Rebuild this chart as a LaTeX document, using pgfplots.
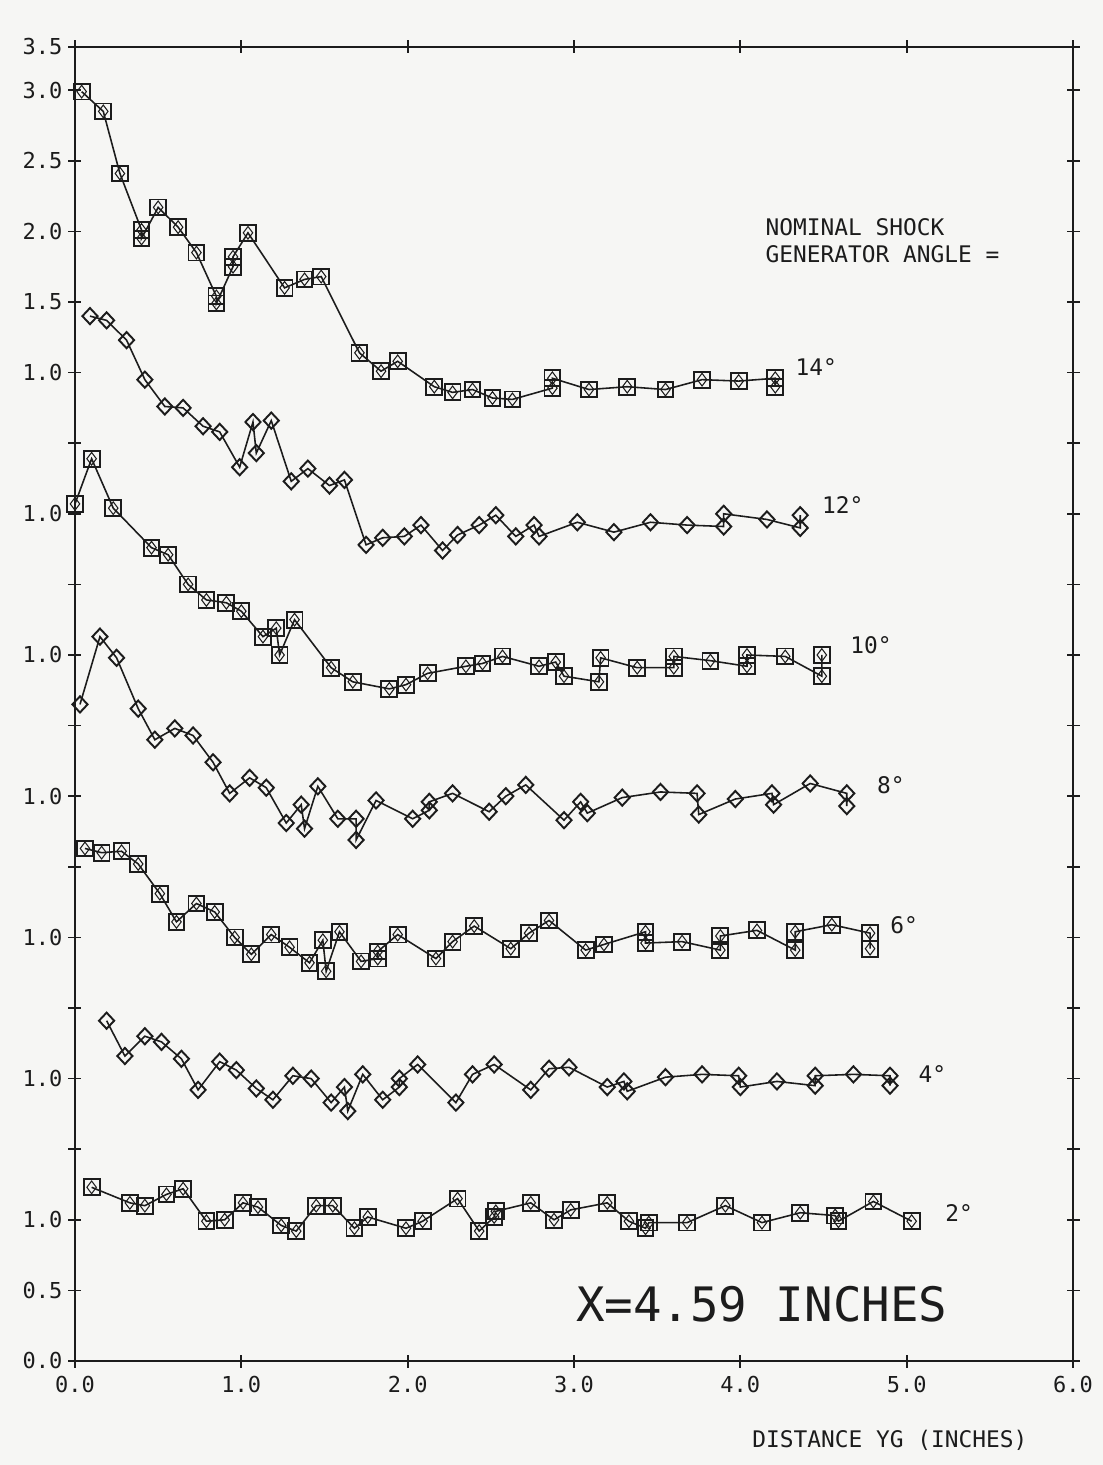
\documentclass[border=0pt]{standalone}
\usepackage{pgfplots}
\pgfplotsset{compat=1.18}
\usepackage{pgfplotstable}
\usepackage{fontspec}
\setmainfont{DejaVu Sans Mono}
\definecolor{paper}{RGB}{246,246,244}
\definecolor{ink}{RGB}{28,28,28}

\pgfplotstableread{
x y
0.04 8.99
0.17 8.85
0.27 8.41
0.40 8.01
0.40 7.95
0.50 8.17
0.62 8.03
0.73 7.85
0.85 7.54
0.85 7.49
0.95 7.75
0.95 7.82
1.04 7.99
1.26 7.60
1.38 7.66
1.48 7.68
1.71 7.14
1.84 7.01
1.94 7.08
2.16 6.90
2.27 6.86
2.39 6.88
2.51 6.82
2.63 6.81
2.87 6.89
2.87 6.96
3.09 6.88
3.32 6.90
3.55 6.88
3.77 6.95
3.99 6.94
4.21 6.96
4.21 6.90
}\dfourteen

\pgfplotstableread{
x y
0.09 7.40
0.19 7.37
0.31 7.23
0.42 6.95
0.54 6.76
0.65 6.75
0.77 6.62
0.87 6.58
0.99 6.33
1.07 6.65
1.09 6.43
1.18 6.66
1.30 6.23
1.40 6.32
1.53 6.20
1.62 6.24
1.75 5.78
1.85 5.83
1.98 5.84
2.08 5.92
2.21 5.74
2.30 5.85
2.43 5.92
2.53 5.99
2.65 5.84
2.76 5.92
2.79 5.84
3.02 5.94
3.24 5.87
3.46 5.94
3.68 5.92
3.90 5.91
3.90 6.00
4.16 5.96
4.36 5.90
4.36 5.99
}\dtwelve

\pgfplotstableread{
x y
0.00 6.07
0.10 6.39
0.23 6.04
0.46 5.76
0.56 5.71
0.68 5.50
0.79 5.39
0.91 5.37
1.00 5.31
1.13 5.13
1.21 5.19
1.23 5.00
1.32 5.25
1.54 4.91
1.67 4.81
1.89 4.76
1.99 4.79
2.12 4.87
2.35 4.92
2.45 4.94
2.57 4.99
2.79 4.92
2.89 4.95
2.94 4.85
3.15 4.81
3.16 4.98
3.38 4.91
3.60 4.91
3.60 4.99
3.82 4.96
4.04 4.92
4.04 5.00
4.27 4.99
4.49 4.85
4.49 5.00
}\dten

\pgfplotstableread{
x y
0.03 4.65
0.15 5.13
0.25 4.98
0.38 4.62
0.48 4.40
0.60 4.48
0.71 4.43
0.83 4.24
0.93 4.02
1.05 4.13
1.15 4.06
1.27 3.81
1.36 3.94
1.38 3.77
1.46 4.07
1.58 3.84
1.69 3.84
1.69 3.69
1.81 3.97
2.03 3.84
2.13 3.90
2.13 3.96
2.27 4.02
2.49 3.89
2.59 4.00
2.71 4.08
2.94 3.83
3.04 3.96
3.08 3.88
3.29 3.99
3.52 4.03
3.74 4.02
3.75 3.87
3.97 3.98
4.19 4.02
4.20 3.94
4.42 4.09
4.64 4.02
4.64 3.93
}\deight

\pgfplotstableread{
x y
0.06 3.63
0.16 3.60
0.28 3.61
0.38 3.52
0.51 3.31
0.61 3.11
0.73 3.24
0.84 3.18
0.96 3.00
1.06 2.88
1.18 3.02
1.29 2.93
1.41 2.82
1.49 2.98
1.51 2.76
1.59 3.04
1.72 2.83
1.82 2.85
1.82 2.90
1.94 3.02
2.17 2.85
2.27 2.97
2.40 3.08
2.62 2.92
2.73 3.03
2.85 3.12
3.07 2.91
3.18 2.95
3.43 3.04
3.43 2.96
3.65 2.97
3.88 2.91
3.88 3.01
4.10 3.05
4.33 2.91
4.33 3.04
4.55 3.09
4.78 3.03
4.78 2.92
}\dsix

\pgfplotstableread{
x y
0.19 2.41
0.30 2.16
0.42 2.30
0.52 2.26
0.64 2.14
0.74 1.92
0.87 2.12
0.97 2.06
1.09 1.93
1.19 1.85
1.31 2.02
1.42 2.00
1.54 1.83
1.62 1.94
1.64 1.77
1.73 2.03
1.85 1.85
1.95 1.94
1.95 2.00
2.06 2.10
2.29 1.83
2.39 2.03
2.52 2.10
2.74 1.92
2.85 2.07
2.97 2.08
3.20 1.94
3.30 1.98
3.32 1.91
3.55 2.01
3.77 2.03
3.99 2.02
4.00 1.94
4.22 1.98
4.45 1.95
4.45 2.02
4.68 2.03
4.90 2.02
4.90 1.95
}\dfour

\pgfplotstableread{
x y
0.10 1.23
0.33 1.12
0.42 1.10
0.55 1.18
0.65 1.22
0.79 0.99
0.90 1.00
1.01 1.12
1.10 1.09
1.24 0.96
1.33 0.92
1.45 1.10
1.55 1.10
1.68 0.94
1.76 1.02
1.99 0.94
2.09 0.99
2.30 1.15
2.43 0.92
2.52 1.02
2.53 1.06
2.74 1.12
2.88 1.00
2.98 1.07
3.20 1.12
3.33 0.99
3.43 0.94
3.45 0.98
3.68 0.98
3.91 1.10
4.13 0.98
4.36 1.05
4.57 1.03
4.59 0.99
4.80 1.13
5.03 0.99
}\dtwo

\pgfplotsset{
  sq/.style={ink, line width=0.9pt, mark=square, mark size=4.5pt,
    mark options={solid, line width=1.1pt}},
  sqin/.style={only marks, ink, mark=diamond, mark size=3.6pt,
    mark options={solid, line width=0.6pt}},
  dm/.style={ink, line width=0.9pt, mark=diamond, mark size=4.6pt,
    mark options={solid, line width=1.1pt, xscale=1.25}},
}

\begin{document}
\begin{tikzpicture}
\fill[paper] (-1.5cm,-2.08cm) rectangle (20.56cm,27.22cm);
\useasboundingbox (-1.5cm,-2.08cm) rectangle (20.56cm,27.22cm);
\begin{axis}[
  at={(0,0)}, anchor=south west,
  scale only axis, width=19.96cm, height=26.28cm,
  xmin=0, xmax=6, ymin=0, ymax=9.306,
  xtick={0,1,2,3,4,5,6},
  xticklabels={0.0,1.0,2.0,3.0,4.0,5.0,6.0},
  ytick={0,0.5,1,1.5,2,2.5,3,3.5,4,4.5,5,5.5,6,6.5,7,7.5,8,8.5,9,9.306},
  yticklabels={0.0,0.5,1.0,,1.0,,1.0,,1.0,,1.0,,1.0,,1.0,1.5,2.0,2.5,3.0,3.5},
  tick align=center, major tick length=0.26cm,
  tick pos=both,
  axis line style={ink, line width=1pt},
  every tick/.style={ink, line width=1pt},
  ticklabel style={font=\fontsize{12.5}{14}\selectfont, text=ink},
  xticklabel style={yshift=-0.05cm},
  clip=false,
]
\addplot[sq] table {\dfourteen};
\addplot[sqin] table {\dfourteen};
\addplot[dm] table {\dtwelve};
\addplot[sq] table {\dten};
\addplot[sqin] table {\dten};
\addplot[dm] table {\deight};
\addplot[sq] table {\dsix};
\addplot[sqin] table {\dsix};
\addplot[dm] table {\dfour};
\addplot[sq] table {\dtwo};
\addplot[sqin] table {\dtwo};

\tikzset{lab/.style={anchor=west, text=ink, font=\fontsize{13}{15}\selectfont, inner sep=0pt}}
\node[lab] at (axis cs:4.33,7.04) {14°};
\node[lab] at (axis cs:4.49,6.06) {12°};
\node[lab] at (axis cs:4.66,5.07) {10°};
\node[lab] at (axis cs:4.82,4.08) {8°};
\node[lab] at (axis cs:4.90,3.09) {6°};
\node[lab] at (axis cs:5.07,2.03) {4°};
\node[lab] at (axis cs:5.23,1.05) {2°};
\node[lab] at (axis cs:4.15,8.03) {NOMINAL SHOCK};
\node[lab] at (axis cs:4.15,7.84) {GENERATOR ANGLE =};
\node[anchor=west, text=ink, inner sep=0pt, font=\fontsize{27}{30}\selectfont] at (axis cs:3.01,0.40) {X=4.59 INCHES};
\node[lab] at (axis cs:4.07,-0.56) {DISTANCE YG (INCHES)};
\end{axis}
\end{tikzpicture}
\end{document}
